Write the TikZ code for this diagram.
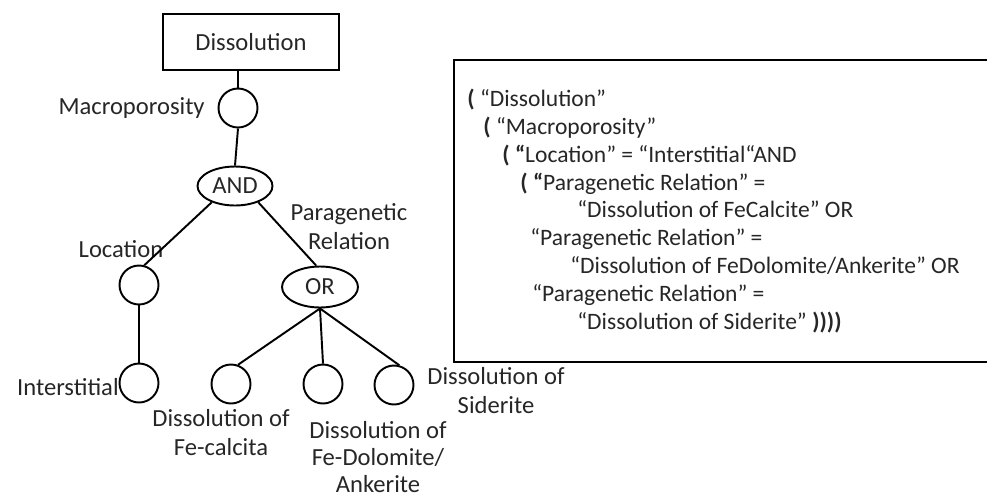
\documentclass[tikz,border=0pt]{standalone}
\usepackage{fontspec}
\setmainfont{Carlito}
\usetikzlibrary{shapes.geometric}
\tikzset{
	attr/.style={circle, draw, line width=1.1pt, minimum size=0.78cm, inner sep=0pt},
	gate/.style={ellipse, draw, line width=1.1pt, inner sep=0pt, minimum width=1.5cm, minimum height=0.78cm, text=black!85, font=\fontsize{14}{16.5}\selectfont},
	lbl/.style={text=black!85, font=\fontsize{14}{16.5}\selectfont, align=center, inner sep=0pt},
	link/.style={line width=1.1pt}
}
\def\ind#1{\hspace*{#1cm}}

\begin{document}
\begin{tikzpicture}[x=0.02cm, y=-0.02cm]
	%%%%% START %%%%%
	\useasboundingbox (0, 0) rectangle (987, 498);
	
	% tree
	\node[lbl, draw, line width=1.1pt, minimum width=3.52cm, minimum height=1.12cm] (root) at (251, 42) {Dissolution};
	\node[attr] (macro) at (238, 108) {};
	\node[gate] (and) at (235, 186) {AND};
	\node[attr] (loc) at (139, 285) {};
	\node[attr] (inter) at (139, 383) {};
	\node[gate, minimum width=1.52cm, minimum height=0.82cm] (or) at (320, 287) {OR};
	\node[attr] (fecal) at (231, 384) {};
	\node[attr] (fedol) at (323, 384) {};
	\node[attr] (sid) at (394, 385) {};
	
	% labels
	\node[lbl, anchor=east] (macrolbl) at (205, 108) {Macroporosity};
	\node[lbl] (loclbl) at (121, 249) {Location};
	\node[lbl] (paralbl) at (349, 227) {Paragenetic\\Relation};
	\node[lbl, anchor=east] (interlbl) at (119, 387) {Interstitial};
	\node[lbl] (fecallbl) at (221, 433) {Dissolution of\\Fe-calcita};
	\node[lbl, font=\fontsize{14}{15.6}\selectfont] (fedollbl) at (378, 457) {Dissolution of\\Fe-Dolomite/\\Ankerite};
	\node[lbl] (sidlbl) at (496, 391) {Dissolution of\\Siderite};
	
	\draw[link] (macro.north |- root.south) -- (macro.north);
	\draw[link] (macro.south) -- (and.north);
	\draw[link] (and.215) -- (loc.75);
	\draw[link] (and.-35) -- (or.100);
	\draw[link] (loc.south) -- (inter.north);
	\draw[link] (or.south) -- (fecal.70);
	\draw[link] (or.south) -- (fedol.north);
	\draw[link] (or.south) -- (sid.75);
	
	% query box
	\draw[line width=1.4pt] (454, 60) rectangle (995, 362);
	\node[anchor=west, align=left, inner sep=0pt, text=black!85, font=\fontsize{13.4}{15.9}\selectfont] (query) at (467, 211) {%
		\textbf{(} “Dissolution”\\
		\ind{0.32}\textbf{(} “Macroporosity”\\
		\ind{0.70}\textbf{( “}Location” = “Interstitial“AND\\
		\ind{1.06}\textbf{( “}Paragenetic Relation” =\\
		\ind{2.20}“Dissolution of FeCalcite” OR\\
		\ind{1.26}“Paragenetic Relation” =\\
		\ind{2.06}“Dissolution of FeDolomite/Ankerite” OR\\
		\ind{1.30}“Paragenetic Relation” =\\
		\ind{2.20}“Dissolution of Siderite” \textbf{))))}};
	%%%%% END %%%%%
\end{tikzpicture}
\end{document}
